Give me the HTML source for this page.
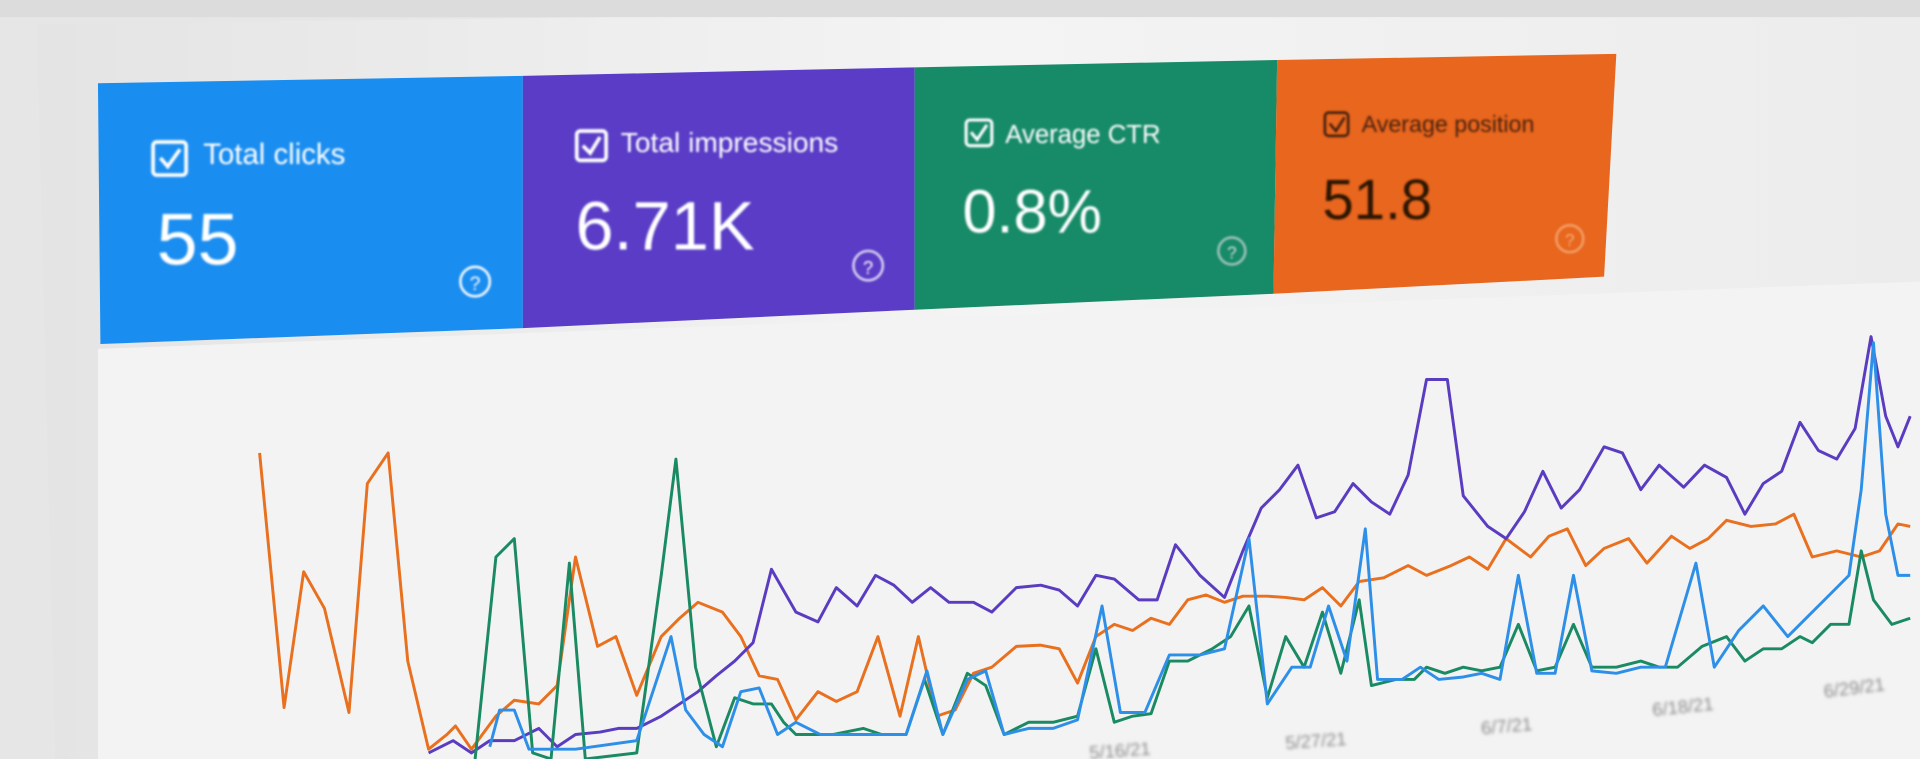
<!DOCTYPE html>
<html><head><meta charset="utf-8"><style>
html,body{margin:0;padding:0;width:1920px;height:759px;overflow:hidden;background:#e9e9e9}
svg{display:block}
text{font-family:"Liberation Sans","DejaVu Sans",sans-serif}
</style></head><body>
<svg width="1920" height="759" viewBox="0 0 1568 620" preserveAspectRatio="none">
<defs>
<linearGradient id="bg" x1="0" y1="0" x2="1" y2="0">
<stop offset="0" stop-color="#e4e4e4"/><stop offset="0.5" stop-color="#f4f4f4"/><stop offset="1" stop-color="#ececec"/>
</linearGradient>
<filter id="bl"><feGaussianBlur stdDeviation="0.8"/></filter>
<filter id="bl2"><feGaussianBlur stdDeviation="1.4"/></filter>
</defs>
<rect width="1568" height="620" fill="#e6e6e6"/>
<polygon points="30,20 1568,0 1568,620 45,620" fill="url(#bg)"/>
<rect x="0" y="0" width="1568" height="14" fill="#dcdcdc"/>
<polygon points="80,620 80,285 1568,230 1568,620" fill="#f3f3f3"/>
<!-- cards -->
<polygon points="80,68 427,62 427,268 82,281" fill="#1a8df0"/>
<polygon points="427,62 747,55 747,253 427,268" fill="#5a3cc6"/>
<polygon points="747,55 1043,49 1040,240 747,253" fill="#178a67"/>
<polygon points="1043,49 1320,44 1310,226 1040,240" fill="#e8661e"/>
<g filter="url(#bl)">
<rect x="125" y="116" width="27" height="27" rx="3" fill="none" stroke="#fff" stroke-width="3"/>
<polyline points="131,129 137,136 147,122" fill="none" stroke="#fff" stroke-width="3"/>
<text x="166" y="134" font-size="24" fill="#fff">Total clicks</text>
<text x="128" y="216" font-size="60" fill="#fff">55</text>
<circle cx="388" cy="230" r="12" fill="none" stroke="#fff" stroke-width="2"/><text x="388" y="237" font-size="16" fill="#fff" text-anchor="middle">?</text>

<rect x="471" y="107" width="24" height="24" rx="3" fill="none" stroke="#fff" stroke-width="3"/>
<polyline points="476,119 482,125 490,112" fill="none" stroke="#fff" stroke-width="3"/>
<text x="507" y="124" font-size="23" fill="#fff">Total impressions</text>
<text x="470" y="204" font-size="56" fill="#fff">6.71K</text>
<circle cx="709" cy="217" r="12" fill="none" stroke="#fff" stroke-width="2" opacity="0.8"/><text x="709" y="224" font-size="15" fill="#fff" text-anchor="middle">?</text>

<rect x="789" y="98" width="21" height="21" rx="3" fill="none" stroke="#fff" stroke-width="2.5"/>
<polyline points="793,108 798,114 806,102" fill="none" stroke="#fff" stroke-width="2.5"/>
<text x="821" y="117" font-size="21" fill="#fff">Average CTR</text>
<text x="786" y="190" font-size="50" fill="#fff">0.8%</text>
<circle cx="1006" cy="205" r="11" fill="none" stroke="#e0e0e0" stroke-width="2" opacity="0.7"/><text x="1006" y="211" font-size="14" fill="#ddd" text-anchor="middle">?</text>

<rect x="1082" y="92" width="19" height="19" rx="3" fill="none" stroke="#3a1a08" stroke-width="2"/>
<polyline points="1086,101 1091,107 1098,96" fill="none" stroke="#3a1a08" stroke-width="2"/>
<text x="1112" y="108" font-size="19" fill="#4a2410">Average position</text>
<text x="1080" y="179" font-size="46" fill="#2a1205">51.8</text>
<circle cx="1282" cy="195" r="11" fill="none" stroke="#f5b07a" stroke-width="2" opacity="0.8"/><text x="1282" y="201" font-size="14" fill="#f5b07a" text-anchor="middle">?</text>
</g>
<!-- dates -->
<g font-size="15" fill="#8a8a8a" filter="url(#bl2)">
<text x="890" y="620" transform="rotate(-4 890 620)">5/16/21</text>
<text x="1050" y="612" transform="rotate(-4 1050 612)">5/27/21</text>
<text x="1210" y="600" transform="rotate(-5 1210 600)">6/7/21</text>
<text x="1350" y="585" transform="rotate(-6 1350 585)">6/18/21</text>
<text x="1490" y="570" transform="rotate(-7 1490 570)">6/29/21</text>
</g>
<g fill="none" stroke-width="2.4" stroke-linejoin="round">
<polyline stroke="#e8701e" points="212,370 232,578 248,467 265,497 285,582 300,395 317,370 333,540 350,612 365,600 372,593 385,612 405,585 420,572 440,575 455,560 470,455 488,528 503,520 520,568 540,520 555,505 570,492 590,500 605,520 620,552 635,555 650,588 668,565 683,573 700,565 717,520 735,585 750,520 765,585 780,580 795,550 810,545 830,528 850,527 865,530 880,558 895,520 910,510 925,515 940,505 955,510 970,490 985,486 1000,492 1015,487 1035,487 1050,488 1065,490 1080,480 1095,495 1110,475 1130,472 1150,462 1165,470 1185,462 1200,455 1215,465 1230,440 1250,455 1265,438 1280,432 1295,462 1310,448 1330,440 1345,460 1365,438 1380,448 1395,440 1410,425 1430,430 1450,428 1465,420 1480,455 1500,450 1520,455 1535,450 1550,428 1560,430"/>
<polyline stroke="#5a3cc0" points="350,615 370,605 385,615 400,605 420,605 440,595 455,610 470,600 490,598 505,595 520,595 540,585 555,575 570,565 585,552 600,540 615,525 630,465 650,500 668,508 683,480 700,495 715,470 730,478 745,492 760,480 775,492 795,492 810,500 830,480 850,478 865,482 880,495 895,470 910,473 930,490 945,490 960,445 980,470 1000,488 1015,450 1030,415 1045,400 1060,380 1075,423 1090,418 1105,395 1120,410 1135,420 1150,388 1165,310 1182,310 1195,405 1215,430 1230,440 1245,418 1260,385 1275,415 1290,400 1310,365 1325,370 1340,400 1355,380 1375,398 1392,380 1410,390 1425,420 1440,395 1455,385 1470,345 1485,368 1500,375 1515,350 1528,275 1540,340 1550,365 1560,340"/>
<polyline stroke="#1a8a62" points="388,620 405,455 420,440 435,615 450,620 465,460 478,620 520,615 540,470 552,375 568,545 585,610 600,570 615,575 630,575 640,590 650,600 680,600 705,595 720,600 740,600 755,555 770,600 790,550 805,560 820,600 840,590 860,590 880,585 895,530 910,590 925,585 940,583 955,540 970,540 990,530 1005,520 1020,495 1035,570 1050,520 1065,545 1080,500 1095,550 1110,490 1120,560 1140,555 1155,555 1165,545 1180,550 1195,545 1210,548 1225,545 1240,510 1255,548 1270,545 1285,510 1300,545 1320,545 1340,540 1355,545 1370,545 1390,528 1410,520 1425,540 1440,530 1455,530 1470,520 1480,525 1495,510 1510,510 1520,450 1530,490 1545,510 1560,505"/>
<polyline stroke="#2e8fe8" points="400,610 408,580 420,580 432,612 470,612 520,605 548,520 560,580 575,600 590,610 605,565 620,562 635,600 650,590 670,600 700,600 720,600 740,600 757,548 770,600 790,555 805,548 820,600 840,595 860,595 880,588 900,495 915,582 935,582 955,535 980,535 1000,530 1020,440 1035,575 1055,545 1070,545 1085,495 1100,540 1115,432 1125,555 1145,555 1160,545 1175,555 1195,553 1210,550 1225,555 1240,470 1255,550 1270,550 1285,470 1300,548 1320,550 1340,545 1360,545 1385,460 1400,545 1420,515 1440,495 1460,520 1475,505 1490,490 1510,470 1520,400 1530,280 1540,420 1550,470 1560,470"/>
</g>
</svg>
</body></html>
